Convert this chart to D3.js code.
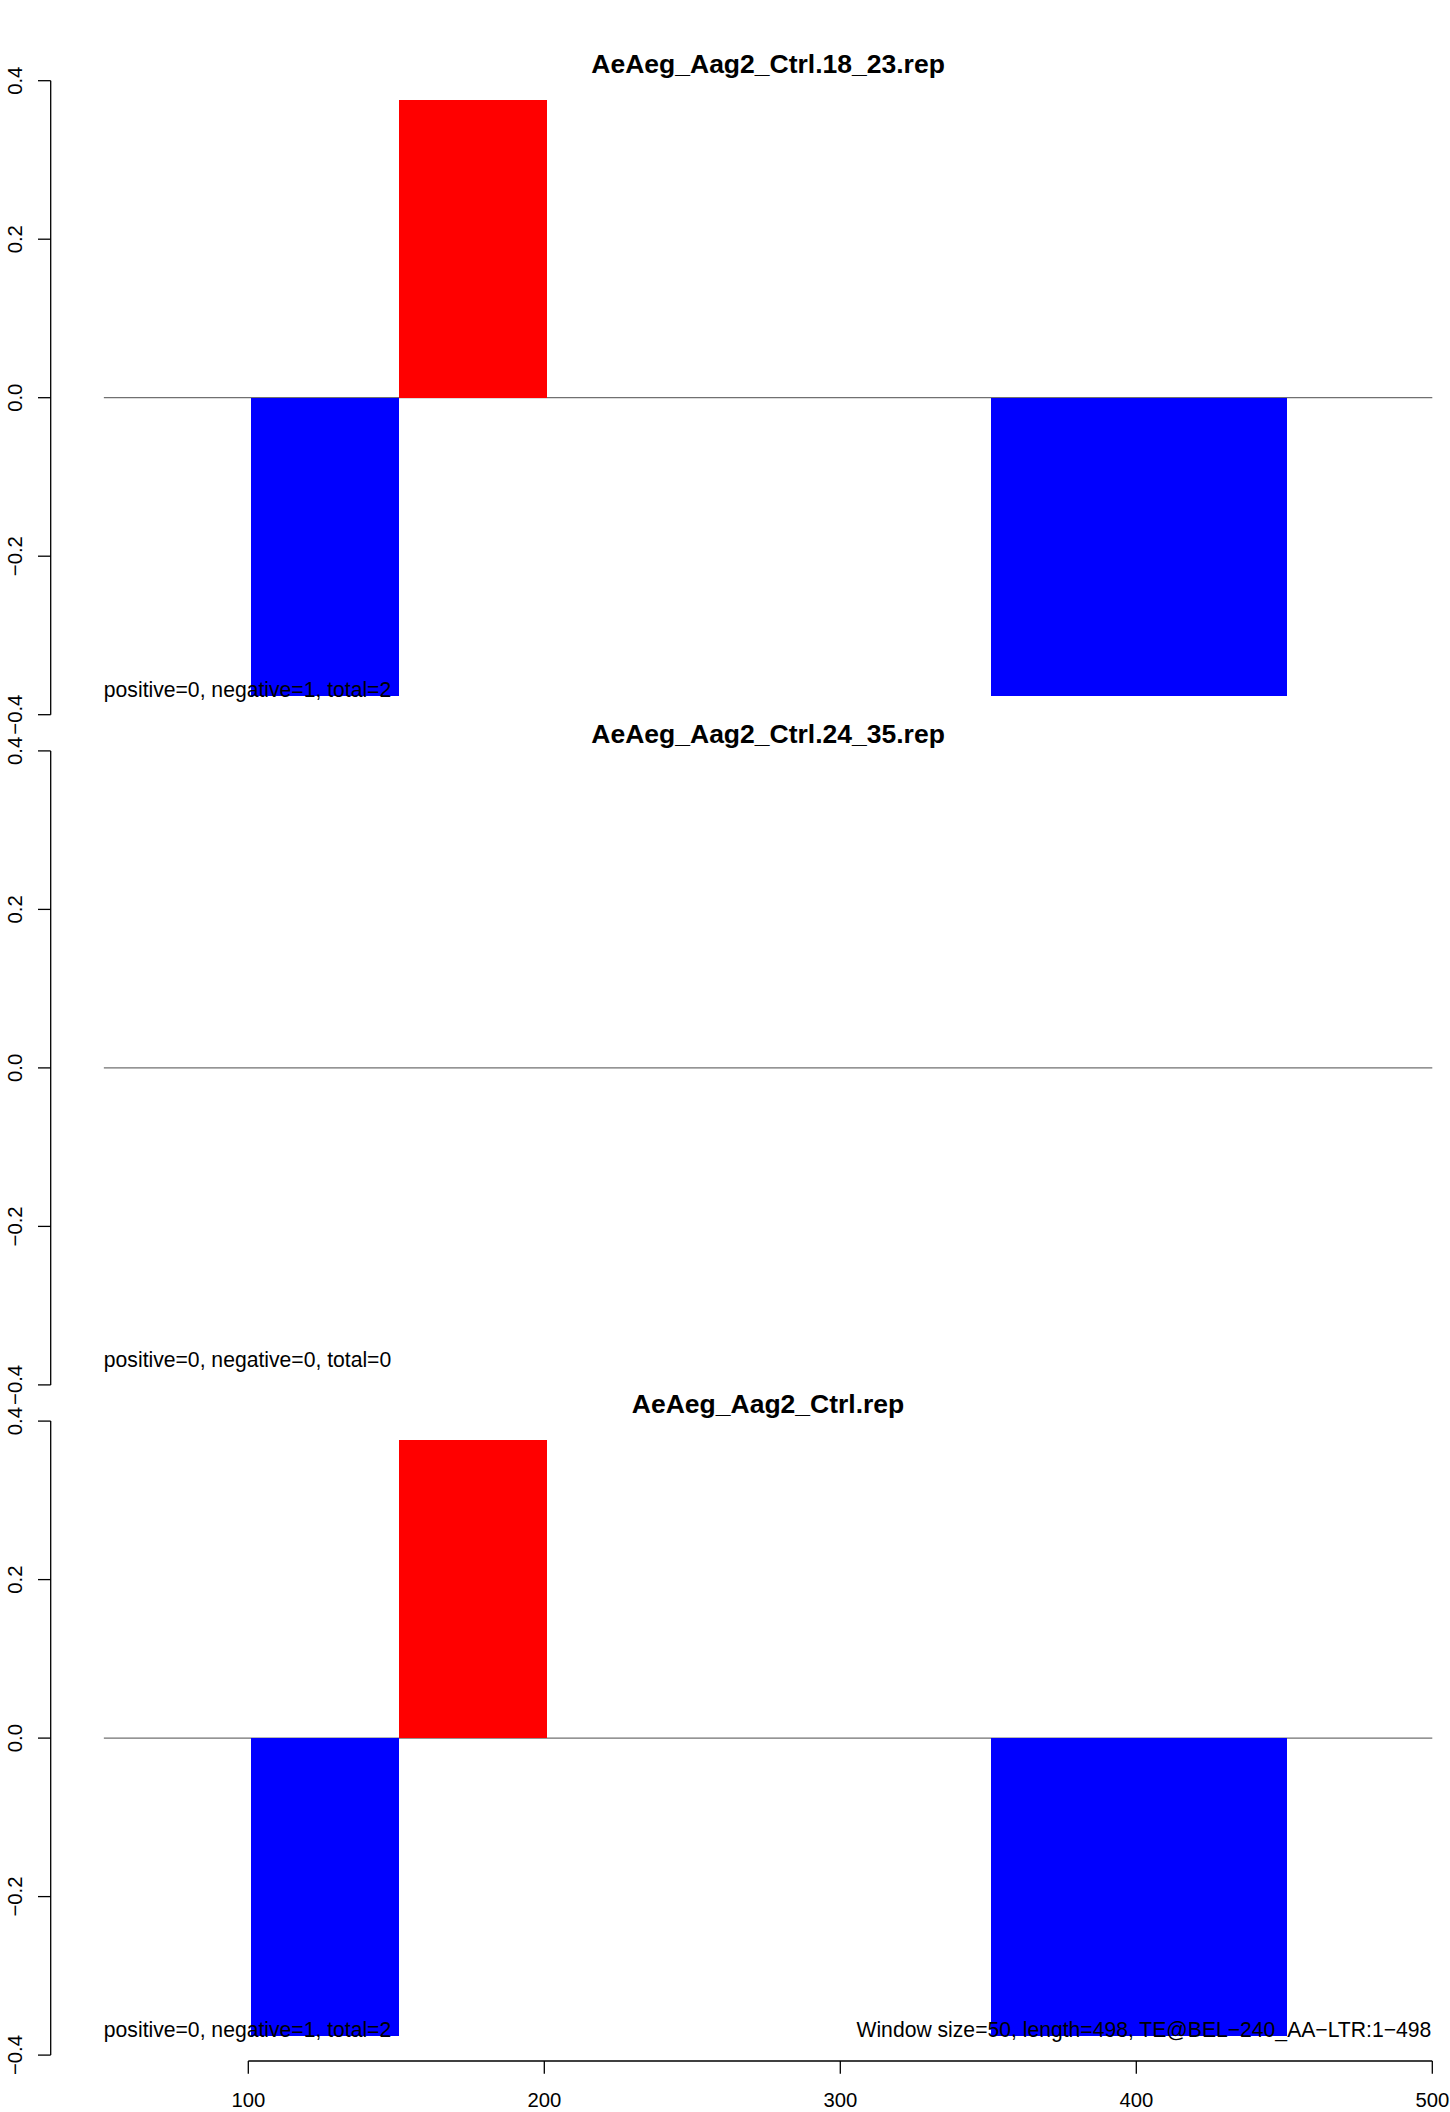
<!DOCTYPE html>
<html>
<head>
<meta charset="utf-8">
<script src="https://cdn.jsdelivr.net/npm/d3@7"></script>
<style>
  html, body { margin: 0; padding: 0; background: #fff; }
  svg { display: block; }
  text { font-family: "Liberation Sans", Arial, Helvetica, sans-serif; fill: #000; }
</style>
</head>
<body>
<svg id="chart" width="1450" height="2112"></svg>
<script>
// ---------------- data ----------------
const panelTitles = ["AeAeg_Aag2_Ctrl.18_23.rep", "AeAeg_Aag2_Ctrl.24_35.rep", "AeAeg_Aag2_Ctrl.rep"];
const windowStarts = [1, 51, 101, 151, 201, 251, 301, 351, 401, 451];
const windowSize = 50;
const values_18_23 = [0, 0, -0.376, 0.376, 0, 0, 0, -0.376, -0.376, 0];
const values_24_35 = [0, 0, 0, 0, 0, 0, 0, 0, 0, 0];
const values_total = [0, 0, -0.376, 0.376, 0, 0, 0, -0.376, -0.376, 0];
const panelValues = [values_18_23, values_24_35, values_total];
const countLabels = ["positive=0, negative=1, total=2", "positive=0, negative=0, total=0", "positive=0, negative=1, total=2"];
const footerLabel = "Window size=50, length=498, TE@BEL\u2212240_AA\u2212LTR:1\u2212498";
const yTicks = [-0.4, -0.2, 0, 0.2, 0.4];
const xTicks = [100, 200, 300, 400, 500];

// ---------------- layout ----------------
const plotXDomain = [51.2, 500];
const panelTop0 = 80.7, panelSpacing = 670.2, panelHeight = 634;
const axisX = 50.7, xAxisY = 2061, tickLen = 12.7;

const svg = d3.select("#chart");
svg.append("rect").attr("width", 1450).attr("height", 2112).attr("fill", "#fff");

const x = d3.scaleLinear().domain([100, 500]).range([248.3, 1432.3]);
const fmtY = v => (v === 0 ? "0.0" : d3.format(".1f")(v).replace("-", "\u2212"));

panelValues.forEach((vals, i) => {
  const top = panelTop0 + i * panelSpacing;
  const y = d3.scaleLinear().domain([-0.4, 0.4]).range([top + panelHeight, top]);
  const g = svg.append("g");

  // zero line
  g.append("line")
    .attr("x1", x(plotXDomain[0])).attr("x2", x(plotXDomain[1]))
    .attr("y1", y(0)).attr("y2", y(0))
    .attr("stroke", "#707070").attr("stroke-width", 1.2);

  // bars
  const data = windowStarts.map((s, k) => ({ s, v: vals[k] })).filter(d => d.v !== 0);
  g.selectAll("rect.bar").data(data).enter().append("rect")
    .attr("class", "bar")
    .attr("x", d => Math.round(x(d.s)))
    .attr("width", d => Math.round(x(d.s + windowSize)) - Math.round(x(d.s)))
    .attr("y", d => Math.round(Math.min(y(d.v), y(0))))
    .attr("height", d => Math.round(Math.abs(y(d.v) - y(0))))
    .attr("shape-rendering", "crispEdges")
    .attr("fill", d => d.v > 0 ? "#ff0000" : "#0000ff");

  // y axis
  const ya = g.append("g");
  ya.append("line").attr("x1", axisX).attr("x2", axisX)
    .attr("y1", y(0.4)).attr("y2", y(-0.4))
    .attr("stroke", "#000").attr("stroke-width", 1.3);
  yTicks.forEach(t => {
    ya.append("line").attr("x1", axisX - tickLen).attr("x2", axisX)
      .attr("y1", y(t)).attr("y2", y(t))
      .attr("stroke", "#000").attr("stroke-width", 1.3);
    ya.append("text")
      .attr("transform", `translate(21.5,${y(t)}) rotate(-90)`)
      .attr("text-anchor", "middle")
      .attr("font-size", "20.3px")
      .text(fmtY(t));
  });

  // title
  g.append("text")
    .attr("x", (x(plotXDomain[0]) + x(plotXDomain[1])) / 2)
    .attr("y", y(0.4) - 8)
    .attr("text-anchor", "middle")
    .attr("font-weight", "bold")
    .attr("font-size", "26.5px")
    .text(panelTitles[i]);

  // count label
  g.append("text")
    .attr("x", x(plotXDomain[0]))
    .attr("y", y(-0.4) - 18)
    .attr("font-size", "21.15px")
    .text(countLabels[i]);

  if (i === panelValues.length - 1) {
    g.append("text")
      .attr("x", x(plotXDomain[1]) - 1)
      .attr("y", y(-0.4) - 18)
      .attr("text-anchor", "end")
      .attr("font-size", "21.15px")
      .text(footerLabel);
  }
});

// x axis
const xa = svg.append("g");
xa.append("line").attr("x1", x(xTicks[0])).attr("x2", x(xTicks[xTicks.length - 1]))
  .attr("y1", xAxisY).attr("y2", xAxisY)
  .attr("stroke", "#000").attr("stroke-width", 1.3);
xTicks.forEach(t => {
  xa.append("line").attr("x1", x(t)).attr("x2", x(t))
    .attr("y1", xAxisY).attr("y2", xAxisY + tickLen)
    .attr("stroke", "#000").attr("stroke-width", 1.3);
  xa.append("text").attr("x", x(t)).attr("y", 2107)
    .attr("text-anchor", "middle")
    .attr("font-size", "20.3px")
    .text(t);
});
</script>
</body>
</html>
